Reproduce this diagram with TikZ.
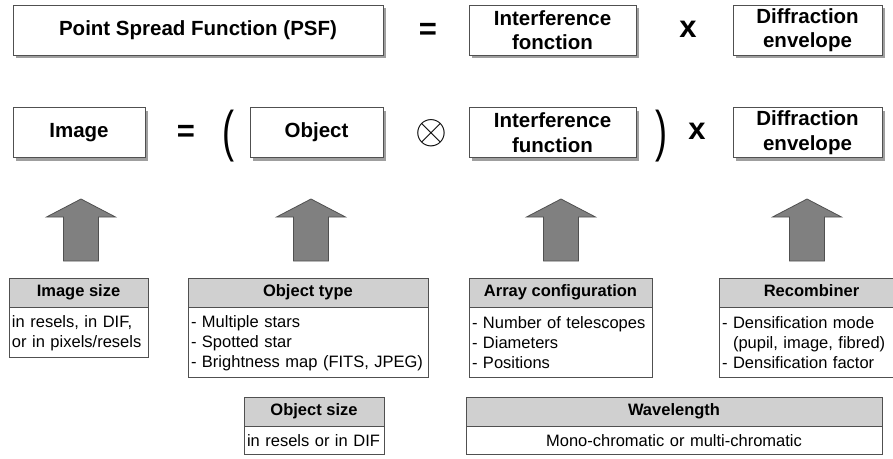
\documentclass[tikz,border=0pt]{standalone}
\usepackage{fontspec}
\setmainfont{Liberation Sans}
\usepackage{xcolor}
\usetikzlibrary{shadows}
\hyphenpenalty=10000

\definecolor{headgray}{RGB}{208,208,208}
\definecolor{arrowgray}{RGB}{128,128,128}
\definecolor{edgegray}{RGB}{80,80,80}

\tikzset{
  eqbox/.style={draw=edgegray, line width=0.8pt, fill=white, align=center, inner sep=0pt,
    minimum height=50, font=\bfseries\fontsize{20.5}{24.5}\selectfont,
    drop shadow={shadow xshift=3pt, shadow yshift=-3pt, fill=gray!75, opacity=1}},
  opsign/.style={font=\bfseries\fontsize{31}{31}\selectfont, inner sep=0pt},
  paren/.style={font=\fontsize{36}{36}\selectfont, inner sep=0pt},
  infohead/.style={draw=edgegray, line width=0.8pt, fill=headgray, minimum height=29,
    inner sep=0pt, text height=12pt, text depth=3.5pt, font=\bfseries\fontsize{16.5}{20}\selectfont},
  infobody/.style={draw=edgegray, line width=0.8pt, fill=white, anchor=north, inner xsep=3pt,
    inner ysep=0pt, align=left, font=\fontsize{16.5}{20}\selectfont},
  uparrow/.style={draw=edgegray, line width=0.8pt, fill=arrowgray}
}

\begin{document}
\begin{tikzpicture}[x=1pt, y=-1pt]
\clip (0,0) rectangle (893,458);

% PSF line
\node[eqbox, minimum width=370] (psf) at (198,30) {Point Spread Function (PSF)};
\node[opsign] (eqa) at (428,31) {=};
\node[eqbox, minimum width=167] (intfa) at (552.5,30) {Interference\\fonction};
\node[opsign] (timesa) at (688,29) {x};
\node[eqbox, minimum width=149] (diffa) at (807.5,30) {Diffraction\\envelope};

% image line
\node[eqbox, minimum width=132] (img) at (79,132.5) {Image};
\node[opsign] (eqb) at (186,133) {=};
\node[paren] (lpar) at (228,136) {\scalebox{1}[1.55]{(}};
\node[eqbox, minimum width=133] (obj) at (316.5,132.5) {Object};
\node[inner sep=0pt] (conv) at (431,133) {\scalebox{1.65}{\Huge$\otimes$}};
\node[eqbox, minimum width=167] (intfb) at (552.5,132.5) {Interference\\function};
\node[paren] (rpar) at (661,136) {\scalebox{1}[1.55]{)}};
\node[opsign] (timesb) at (697,131) {x};
\node[eqbox, minimum width=149] (diffb) at (807.5,132.5) {Diffraction\\envelope};

% arrows
\foreach \ax in {81,311,561,807}
  \draw[uparrow] (\ax-17.5,261) -- (\ax-17.5,217) -- (\ax-34.5,217) -- (\ax,199)
    -- (\ax+34.5,217) -- (\ax+17.5,217) -- (\ax+17.5,261) -- cycle;

% parameters
\node[infohead, minimum width=139] (imgsize) at (78.5,292.5) {Image size};
\node[infobody, text width=133, minimum height=50] (imgsizetxt) at (imgsize.south)
  {in resels, in DIF,\\or in pixels/resels};

\node[infohead, minimum width=240] (objtype) at (308,292.5) {Object type};
\node[infobody, text width=234, minimum height=70] (objtypetxt) at (objtype.south)
  {- Multiple stars\\- Spotted star\\- Brightness map (FITS, JPEG)};

\node[infohead, minimum width=183] (array) at (560.5,292.5) {Array configuration};
\node[infobody, text width=177, minimum height=70] (arraytxt) at (array.south)
  {- Number of telescopes\\- Diameters\\- Positions};

\node[infohead, minimum width=185] (recomb) at (811.5,292.5) {Recombiner};
\node[infobody, text width=179, minimum height=70] (recombtxt) at (recomb.south)
  {- Densification mode\\\ \ (pupil, image, fibred)\\- Densification factor};

\node[infohead, minimum width=140] (objsize) at (314,411.5) {Object size};
\node[infobody, text width=134, minimum height=28] (objsizetxt) at (objsize.south)
  {in resels or in DIF};

\node[infohead, minimum width=416] (wave) at (674,411.5) {Wavelength};
\node[infobody, text width=410, minimum height=28, align=center] (wavetxt) at (wave.south)
  {Mono-chromatic or multi-chromatic};
\end{tikzpicture}
\end{document}
